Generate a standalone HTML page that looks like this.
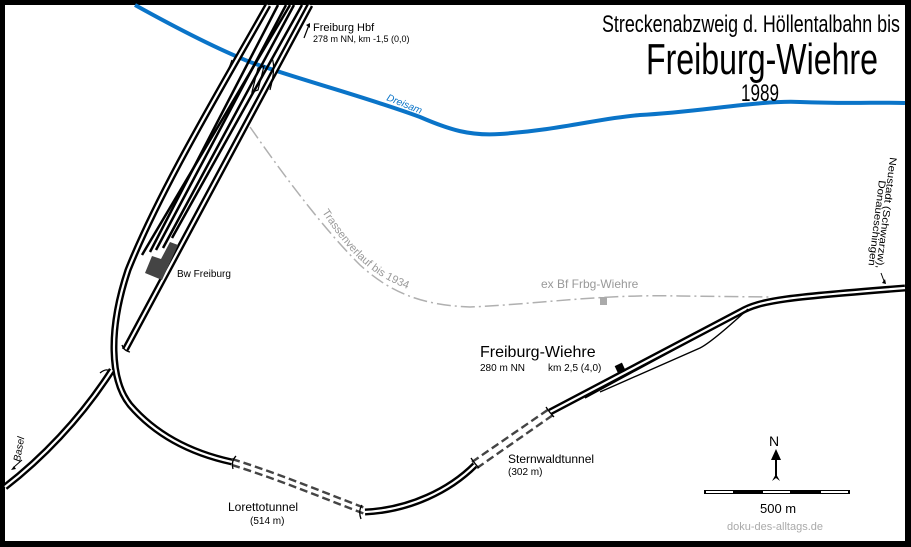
<!DOCTYPE html>
<html><head><meta charset="utf-8"><style>
html,body{margin:0;padding:0;background:#000;}
svg{display:block}
text{font-family:"Liberation Sans",sans-serif}
</style></head><body>
<svg width="911" height="547" viewBox="0 0 911 547" xmlns="http://www.w3.org/2000/svg">
<rect x="0" y="0" width="911" height="547" fill="#000"/>
<rect x="5" y="5" width="900" height="536" fill="#fff"/>

<!-- river -->
<path d="M135,5 C180,30 220,50 250,62 C300,80 360,95 420,117 C450,130 470,136 500,134 C560,130 600,118 640,115 C700,112 760,100 800,102 C850,104 880,102 905,103" fill="none" stroke="#0a74c8" stroke-width="4"/>
<text x="386" y="100" font-size="10" fill="#0a74c8" font-style="italic" transform="rotate(22 386 100)">Dreisam</text>

<!-- old route -->
<path d="M250,127 C280,170 320,225 360,265 C390,292 420,305 470,307 C540,304 600,294 680,296 L770,297" fill="none" stroke="#b0b0b0" stroke-width="1.5" stroke-dasharray="14,4,2,4"/>
<rect x="600" y="297" width="7" height="8" fill="#aaa"/>
<path id="tp" d="M322,212 C340,240 362,268 392,282 C408,290 420,294 440,298" fill="none"/>
<text font-size="11" fill="#999"><textPath href="#tp">Trassenverlauf bis 1934</textPath></text>
<text x="541" y="288" font-size="12" fill="#999">ex Bf Frbg-Wiehre</text>

<!-- double tracks: black then white -->
<g fill="none" stroke="#000" stroke-width="7">
 <path d="M268,5 C220,90 160,190 128,270 C108,330 110,380 130,405 C160,440 200,455 232,462"/>
 <path d="M5,487 C40,460 80,420 112,370"/>
 <path d="M365,512 C410,510 450,490 475,465"/>
 <path d="M550,412 L740,312 C760,300 790,297 905,288"/>
 <path d="M310,5 L125,350"/>
</g>
<g fill="none" stroke="#fff" stroke-width="2.2">
 <path d="M268,5 C220,90 160,190 128,270 C108,330 110,380 130,405 C160,440 200,455 232,462"/>
 <path d="M5,487 C40,460 80,420 112,370"/>
 <path d="M365,512 C410,510 450,490 475,465"/>
 <path d="M550,412 L740,312 C760,300 790,297 905,288"/>
 <path d="M310,5 L125,350"/>
</g>
<!-- tunnels dashed -->
<g fill="none" stroke="#444" stroke-width="2.4" stroke-dasharray="8,4">
 <path d="M232,459 C280,474 320,491 365,508"/>
 <path d="M232,465 C280,480 320,497 365,514"/>
 <path d="M472,462 L549,409"/>
 <path d="M477,468 L553,415"/>
</g>
<!-- tunnel portals -->
<g fill="none" stroke="#000" stroke-width="1.3">
 <path d="M236,456 q-5,5 -3,13"/><path d="M362,505 q-4,6 -1,14"/>
 <path d="M471,458 q4,6 8,10"/><path d="M546,407 q4,6 8,10"/>
 <path d="M122,345 q2,6 8,7"/><path d="M100,373 q6,-5 10,-2"/>
</g>
<!-- station tracks -->
<g stroke="#000" stroke-width="2.5" fill="none">
 <line x1="278" y1="5" x2="150" y2="252"/>
 <line x1="286" y1="5" x2="156" y2="250"/>
 <line x1="294" y1="5" x2="163" y2="248"/>
 <line x1="302" y1="5" x2="172" y2="238"/>
 <line x1="290" y1="5" x2="142" y2="255"/>
</g>
<g stroke="#000" stroke-width="1.4" fill="none">
 <path d="M585,398 L742,313"/>
 <path d="M600,392 L700,348 Q712,342 748,309"/>
</g>
<g stroke="#000" stroke-width="1.2" fill="none">
 <path d="M232,60 q-4,12 -8,18"/><path d="M272,58 q4,10 -2,32"/>
 <path d="M258,68 l-6,24 l6,-2 l6,-24z"/>
</g>
<polygon points="152,256 161,259 170,242 178,245 162,280 145,273" fill="#444"/>
<text x="177" y="277" font-size="10" fill="#000">Bw Freiburg</text>

<!-- station building -->
<rect x="616" y="364" width="8" height="9" fill="#000" transform="rotate(-25 620 368)"/>

<!-- labels -->
<text x="313" y="31" font-size="11">Freiburg Hbf</text>
<text x="313" y="42" font-size="9">278 m NN, km -1,5 (0,0)</text>
<path d="M304,38 L309,25" stroke="#000" stroke-width="1.2"/><path d="M306,25 l4,-2 l0,5z" fill="#000"/>

<text x="480" y="357" font-size="16">Freiburg-Wiehre</text>
<text x="480" y="371" font-size="10">280 m NN</text>
<text x="548" y="371" font-size="10">km 2,5 (4,0)</text>

<text x="228" y="511" font-size="12">Lorettotunnel</text>
<text x="250" y="524" font-size="10">(514 m)</text>
<text x="508" y="463" font-size="12">Sternwaldtunnel</text>
<text x="508" y="475" font-size="10">(302 m)</text>

<text x="20" y="462" font-size="10" font-style="italic" transform="rotate(-80 20 462)">Basel</text>
<path d="M22,460 L14,467" stroke="#000" stroke-width="1"/><path d="M11,470 l5,-1 l-2,-3z" fill="#000"/>
<text x="890" y="157" font-size="10" transform="rotate(97 890 157)" textLength="112" lengthAdjust="spacingAndGlyphs">Neustadt (Schwarzw),</text>
<text x="879" y="180" font-size="10" transform="rotate(97 879 180)" textLength="86" lengthAdjust="spacingAndGlyphs">Donaueschingen</text>
<path d="M881,273 l3,8" stroke="#000"/><path d="M882,283 l4,1 l-1,-5z" fill="#000"/>

<!-- title -->
<text x="602" y="32" font-size="24" textLength="298" lengthAdjust="spacingAndGlyphs">Streckenabzweig d. Höllentalbahn bis</text>
<text x="646" y="74" font-size="44" textLength="232" lengthAdjust="spacingAndGlyphs">Freiburg-Wiehre</text>
<text x="741" y="101" font-size="24" textLength="38" lengthAdjust="spacingAndGlyphs">1989</text>

<!-- compass & scale -->
<text x="769" y="446" font-size="14">N</text>
<path d="M776,452 L776,478" stroke="#000" stroke-width="2"/>
<path d="M771,460 L776,449 L781,460z" fill="#000"/>
<path d="M772,481 L776,474 L780,481 L776,478z" fill="#000"/>
<rect x="704" y="490" width="146" height="4" fill="#000"/>
<rect x="706" y="491" width="27" height="2" fill="#fff"/>
<rect x="763" y="491" width="27" height="2" fill="#fff"/>
<rect x="821" y="491" width="27" height="2" fill="#fff"/>
<text x="760" y="513" font-size="13">500 m</text>
<text x="727" y="530" font-size="11" fill="#aaa">doku-des-alltags.de</text>
</svg>
</body></html>
